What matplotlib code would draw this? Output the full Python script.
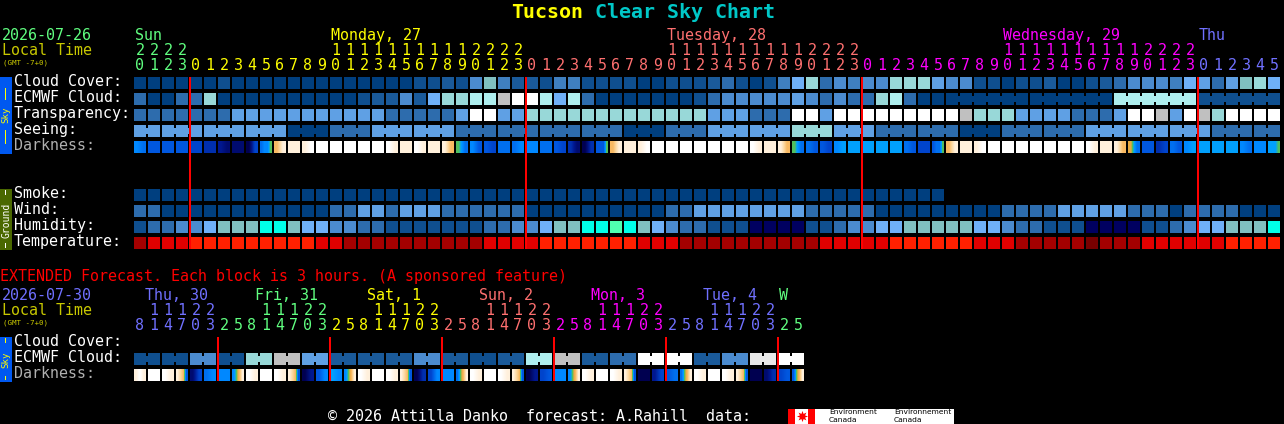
import numpy as np
import matplotlib
matplotlib.use("Agg")
import matplotlib.pyplot as plt
from matplotlib.colors import LinearSegmentedColormap, Normalize
from matplotlib.patches import Rectangle

MONO = "DejaVu Sans Mono"

# block colours, index used by the sky and ground rows
LEVEL_COLORS = ["#003f7f", "#0f4f8f", "#1a5a9a", "#2d6cad", "#4b8bcf", "#5fa0e4", "#6fb0f7",
                "#80c0c0", "#98d8d8", "#aeeeee", "#c0c0c0", "#e8e8e8", "#ffffff",
                "#00ffe8", "#50ffb0", "#000060", "#3f7fbf"]
TEMP_COLORS = ["#780000", "#a40000", "#e00000", "#ff2000"]

HOURS = [20, 21, 22, 23] + list(range(24)) * 3 + [0, 1, 2, 3, 4, 5]
HOUR_DAY = [0] * 4 + [1] * 24 + [2] * 24 + [3] * 24 + [4] * 6
DAY_COLORS = ["#60ff80", "#ffff00", "#ff7070", "#ff00ff", "#7070ff"]
DAY_NAMES = ["Sun", "Monday, 27", "Tuesday, 28", "Wednesday, 29", "Thu"]
DAY_NAME_X = [135, 331, 667, 1003, 1199]

CLOUD = [0, 0, 0, 0, 0, 0, 1, 0, 0, 0, 0, 0, 0, 0, 0, 0, 0, 0, 0, 0, 1,
         1, 2, 1, 4, 7, 16, 2, 2, 1, 16, 16, 1, 1, 1, 1, 0, 0, 1, 1, 1, 2, 3, 1, 0, 1, 16, 6, 8, 3, 4, 16,
         4, 4, 8, 8, 8, 5, 4, 4, 1, 1, 0, 1, 1, 2, 0, 0, 1, 2, 3, 4, 4, 4, 16, 6, 5, 3, 5, 7, 8, 6]
ECMWF = [3, 0, 0, 3, 3, 8, 0, 0, 0, 0, 0, 0, 0, 0, 0, 0, 1, 2, 2, 4, 2,
         6, 8, 8, 9, 9, 10, 12, 12, 9, 6, 9, 3, 0, 0, 0, 0, 0, 0, 0, 1, 3, 4, 4, 4, 4, 4, 5, 4, 3, 4, 3,
         3, 8, 9, 3, 0, 0, 0, 0, 0, 0, 0, 0, 0, 0, 0, 0, 0, 0, 9, 9, 9, 9, 9, 9, 1, 1, 1, 1, 1, 1]
TRANSPARENCY = [3, 3, 3, 3, 3, 3, 3, 5, 5, 5, 5, 5, 5, 5, 5, 5, 5, 5, 3, 3, 3,
                3, 3, 5, 12, 12, 5, 5, 8, 8, 8, 8, 8, 8, 8, 8, 8, 8, 8, 8, 8, 5, 5, 5, 3, 3, 3, 12, 12, 5, 12, 12,
                12, 12, 12, 12, 12, 12, 12, 10, 8, 8, 8, 5, 5, 5, 5, 3, 3, 3, 5, 12, 12, 10, 5, 12, 10, 8, 12, 12, 12, 12]
SEEING = [5, 5, 5, 5, 5, 5, 5, 5, 5, 5, 5, 0, 0, 0, 3, 3, 3, 5, 5, 5, 5,
          5, 5, 3, 3, 3, 3, 3, 3, 3, 3, 3, 3, 3, 3, 0, 0, 0, 3, 3, 3, 5, 5, 5, 5, 5, 5, 8, 8, 8, 5, 5,
          5, 3, 3, 3, 3, 3, 3, 0, 0, 0, 3, 3, 3, 3, 3, 3, 5, 5, 5, 5, 5, 5, 5, 5, 5, 3, 3, 3, 3, 3]
SMOKE = [0] * 58
WIND = [3, 3, 0, 0, 0, 0, 0, 0, 0, 0, 0, 0, 0, 0, 3, 3, 5, 5, 3, 5, 5,
        5, 3, 3, 3, 3, 3, 3, 0, 0, 0, 0, 0, 0, 0, 0, 0, 0, 3, 3, 5, 5, 5, 5, 5, 5, 5, 5, 3, 3, 3, 3,
        3, 0, 0, 0, 0, 0, 0, 0, 0, 0, 3, 3, 3, 3, 5, 5, 5, 5, 5, 3, 3, 3, 0, 3, 3, 3, 3, 0, 0, 0]
HUMIDITY = [1, 3, 3, 4, 4, 6, 7, 7, 7, 13, 13, 7, 6, 6, 4, 4, 3, 3, 1, 1, 1,
            1, 1, 1, 1, 3, 3, 4, 4, 6, 7, 7, 13, 13, 14, 13, 7, 6, 4, 3, 3, 1, 1, 1, 15, 15, 15, 15, 1, 1, 3, 4,
            4, 6, 6, 7, 7, 7, 7, 7, 6, 6, 4, 3, 3, 1, 1, 1, 15, 15, 15, 15, 1, 1, 3, 4, 6, 6, 7, 7, 7, 13]
TEMPERATURE = [1, 2, 2, 2, 3, 3, 3, 3, 3, 3, 3, 3, 3, 2, 2, 1, 1, 1, 1, 1, 1,
               1, 1, 1, 1, 2, 2, 2, 2, 3, 3, 3, 3, 3, 3, 3, 2, 2, 2, 1, 1, 1, 1, 1, 1, 1, 1, 1, 1, 2, 2, 2,
               2, 2, 3, 3, 3, 3, 3, 3, 2, 2, 2, 1, 1, 1, 1, 1, 0, 1, 1, 1, 2, 2, 2, 2, 2, 2, 3, 3, 3, 3]

# darkness readings across each block, 0 navy .. 8 sky blue, 9-10 twilight, 11-14 orange to white
DARKNESS = [(7, 6), (5, 5), (5, 5), (5, 5), (4, 4), (3, 3), (2, 1), (1, 1), (0, 4), (6, 7, 7, 9),
            (11, 13), (13, 13), (13, 14), (14,), (14,), (14,), (14,), (14,), (14, 13), (13, 13),
            (14, 13), (13, 13), (13, 11), (9, 6), (7, 5), (5, 4), (6, 6), (6, 7), (7, 7), (6, 6),
            (5, 4), (3, 1), (0, 3), (5, 5, 5, 9), (11, 13), (13, 13), (13, 14), (14,), (14,), (14,),
            (14,), (14,), (14,), (14,), (14, 13), (13, 13), (13, 11), (9, 6), (6, 5), (5, 4), (7, 8), (8, 8),
            (8, 8), (8, 8), (8, 8), (6, 5), (4, 4), (5, 6, 6, 9), (11, 13), (13, 13), (13, 14), (14,),
            (14,), (14,), (14,), (14,), (14,), (14,), (14, 13), (13, 13), (13, 11), (10, 6), (5, 5), (3, 4),
            (6, 5), (7, 8), (8, 8), (8, 8), (8, 8), (7, 6), (7, 7), (8, 8, 8, 9)]

EXT_HOURS = [8, 11, 14, 17, 20, 23, 2, 5] * 6
EXT_COLORS = (["#7070ff"] * 6 + ["#60ff80"] * 8 + ["#ffff00"] * 8 + ["#ff7070"] * 8
              + ["#ff00ff"] * 8 + ["#7070ff"] * 8 + ["#60ff80"] * 2)
EXT_NAMES = ["Thu, 30", "Fri, 31", "Sat, 1", "Sun, 2", "Mon, 3", "Tue, 4", "W"]
EXT_NAME_X = [145, 255, 367, 479, 591, 703, 779]
EXT_NAME_COLORS = ["#7070ff", "#60ff80", "#ffff00", "#ff7070", "#ff00ff", "#7070ff", "#60ff80"]
EXT_ECMWF = [1, 1, 4, 1, 8, 10, 5, 2, 2, 2, 4, 2, 1, 2, 9, 10, 2, 3, 12, 12, 2, 4, 11, 12]
EXT_DARKNESS = [(13, 14, 13), (14,), (14, 13), (13, 12, 11, 5), (1, 4), (6, 7), (7, 7), (7, 9, 11, 13),
                (14, 13), (14,), (14, 13), (13, 12, 11, 5), (0, 2), (5, 7), (8, 7), (7, 9, 11, 13),
                (14, 13), (14,), (14, 13), (13, 12, 11, 5), (0, 3), (4, 7), (7, 7), (6, 9, 11, 13),
                (14, 13), (14,), (14, 13), (13, 12, 11, 5), (0, 2), (4, 5), (7, 7), (7, 9, 11, 13),
                (14, 13), (14,), (14, 13), (13, 12, 11, 5), (0, 0), (2, 4), (5, 6), (6, 9, 11, 13),
                (14, 13), (14,), (14, 13), (13, 12, 11, 5), (0, 0), (1, 3), (4, 5), (5, 9, 11, 13)]

DARK_CMAP = LinearSegmentedColormap.from_list("darkness", [
    "#000050", "#000c70", "#001890", "#0030b0", "#0044cc", "#0058e0", "#0070f0", "#0088ff", "#00a0ff",
    "#50c060", "#e8a840", "#f8b860", "#fcd8a0", "#fff0dc", "#ffffff"], N=256)
DARK_NORM = Normalize(0, 14)

LEFT = 134
STEP = 14
SIZE = 12

fig = plt.figure(figsize=(12.84, 4.24), dpi=100, facecolor="black")
ax = fig.add_axes([0, 0, 1, 1])
ax.set_xlim(0, 1284)
ax.set_ylim(424, 0)
ax.axis("off")


def label(x, y, s, color="white", size=10.8, **kw):
    ax.text(x, y, s, color=color, fontsize=size, family=MONO, va="baseline", **kw)


def box(x, y, w, h, color, zorder=1):
    ax.add_patch(Rectangle((x, y), w, h, facecolor=color, edgecolor="none", lw=0, snap=False, zorder=zorder))


def block_row(y, values, joined=(), colors=LEVEL_COLORS):
    # joined holds the (first, last) columns of runs linked by a short bridge
    for i, v in enumerate(values):
        box(LEFT + i * STEP, y, SIZE, SIZE, colors[v])
    for first, last in joined:
        for i in range(first, last):
            box(LEFT + i * STEP + SIZE, y + 3, STEP - SIZE, 6, colors[values[i]])


def dark_row(y, samples):
    for i, s in enumerate(samples):
        x = LEFT + i * STEP
        ax.imshow(np.array([s], dtype=float), extent=(x, x + SIZE, y + SIZE, y), cmap=DARK_CMAP,
                  norm=DARK_NORM, aspect="auto", interpolation="bilinear", zorder=2)
    ax.set_xlim(0, 1284)
    ax.set_ylim(424, 0)


def side_strip(y0, y1, color, text, text_color, mid, size, dashes):
    box(0, y0, 12, y1 - y0, color)
    ax.text(6, mid, text, color=text_color, fontsize=size, family=MONO, rotation=90,
            ha="center", va="center")
    for a, b in dashes:
        box(5, a, 1, b - a, text_color, zorder=2)


# title
label(511, 18, "Tucson", "#ffff00", 14.4, fontweight="bold")
label(595, 18, "Clear Sky Chart", "#00c8c8", 14.4, fontweight="bold")

# main header
label(2, 40, "2026-07-26", "#60ff80")
label(2, 55, "Local Time", "#c8c800")
label(3, 65, "(GMT -7+0)", "#c8c800", 5.4)
for x, s, c in zip(DAY_NAME_X, DAY_NAMES, DAY_COLORS):
    label(x, 40, s, c)
for i, (h, d) in enumerate(zip(HOURS, HOUR_DAY)):
    cx = LEFT + i * STEP + SIZE / 2
    if h >= 10:
        label(cx, 55, str(h // 10), DAY_COLORS[d], ha="center")
    label(cx, 70, str(h % 10), DAY_COLORS[d], ha="center")

for y, s, c in [(86, "Cloud Cover:", "white"), (102, "ECMWF Cloud:", "white"), (118, "Transparency:", "white"),
                (134, "Seeing:", "white"), (150, "Darkness:", "#b0b0b0"), (198, "Smoke:", "white"),
                (214, "Wind:", "white"), (230, "Humidity:", "white"), (246, "Temperature:", "white")]:
    label(14, y, s, c)

seeing_runs = [(0, 1)] + [(i, i + 2) for i in range(2, 80, 3)] + [(80, 81)]
block_row(77, CLOUD)
block_row(93, ECMWF, joined=[(58, 63), (64, 69), (70, 75), (76, 81)])
block_row(109, TRANSPARENCY)
block_row(125, SEEING, joined=seeing_runs)
dark_row(141, DARKNESS)
block_row(189, SMOKE)
block_row(205, WIND)
block_row(221, HUMIDITY)
block_row(237, TEMPERATURE, colors=TEMP_COLORS)

side_strip(77, 154, "#0058f0", "Sky", "#ffff00", 115, 6.6, [(88, 100), (130, 144)])
side_strip(189, 250, "#4a6800", "Ground", "#ffffff", 220, 7, [(190, 195), (243, 248)])

for c in (4, 28, 52, 76):
    box(LEFT + c * STEP - 1, 77, 2, 172, "#ff0000", zorder=5)

# extended forecast
label(0, 281, "EXTENDED Forecast. Each block is 3 hours. (A sponsored feature)", "#ff0000")
label(2, 300, "2026-07-30", "#7070ff")
label(2, 315, "Local Time", "#c8c800")
label(3, 324, "(GMT -7+0)", "#c8c800", 5.4)
for x, s, c in zip(EXT_NAME_X, EXT_NAMES, EXT_NAME_COLORS):
    label(x, 300, s, c)
for i, (h, c) in enumerate(zip(EXT_HOURS, EXT_COLORS)):
    cx = LEFT + i * STEP + SIZE / 2
    if h >= 10:
        label(cx, 315, str(h // 10), c, ha="center")
    label(cx, 330, str(h % 10), c, ha="center")

for y, s, c in [(346, "Cloud Cover:", "white"), (362, "ECMWF Cloud:", "white"), (378, "Darkness:", "#b0b0b0")]:
    label(14, y, s, c)

block_row(353, [v for v in EXT_ECMWF for _ in range(2)], joined=[(i, i + 1) for i in range(0, 48, 2)])
dark_row(369, EXT_DARKNESS)
side_strip(337, 382, "#0058f0", "Sky", "#ffff00", 360, 6.6, [(338, 343), (376, 380)])
for c in range(6, 48, 8):
    box(LEFT + c * STEP - 1, 337, 2, 44, "#ff0000", zorder=5)

# footer and logo
label(328, 421, "\u00a9 2026 Attilla Danko  forecast: A.Rahill  data:", "white")
box(788, 409, 166, 15, "white")
box(788, 409, 7, 15, "#ff0000", zorder=2)
box(808, 409, 7, 15, "#ff0000", zorder=2)
ax.plot([801.5], [415.5], marker=(8, 1, 0), ms=8, color="#ff0000", mew=0, zorder=3)
for x, s1 in [(829, "Environment"), (894, "Environnement")]:
    ax.text(x, 412, s1, color="black", fontsize=5.4, family="DejaVu Sans", va="center", zorder=3)
    ax.text(x, 420, "Canada", color="black", fontsize=5.4, family="DejaVu Sans", va="center", zorder=3)

fig.savefig("out.png", dpi=100, facecolor="black")
